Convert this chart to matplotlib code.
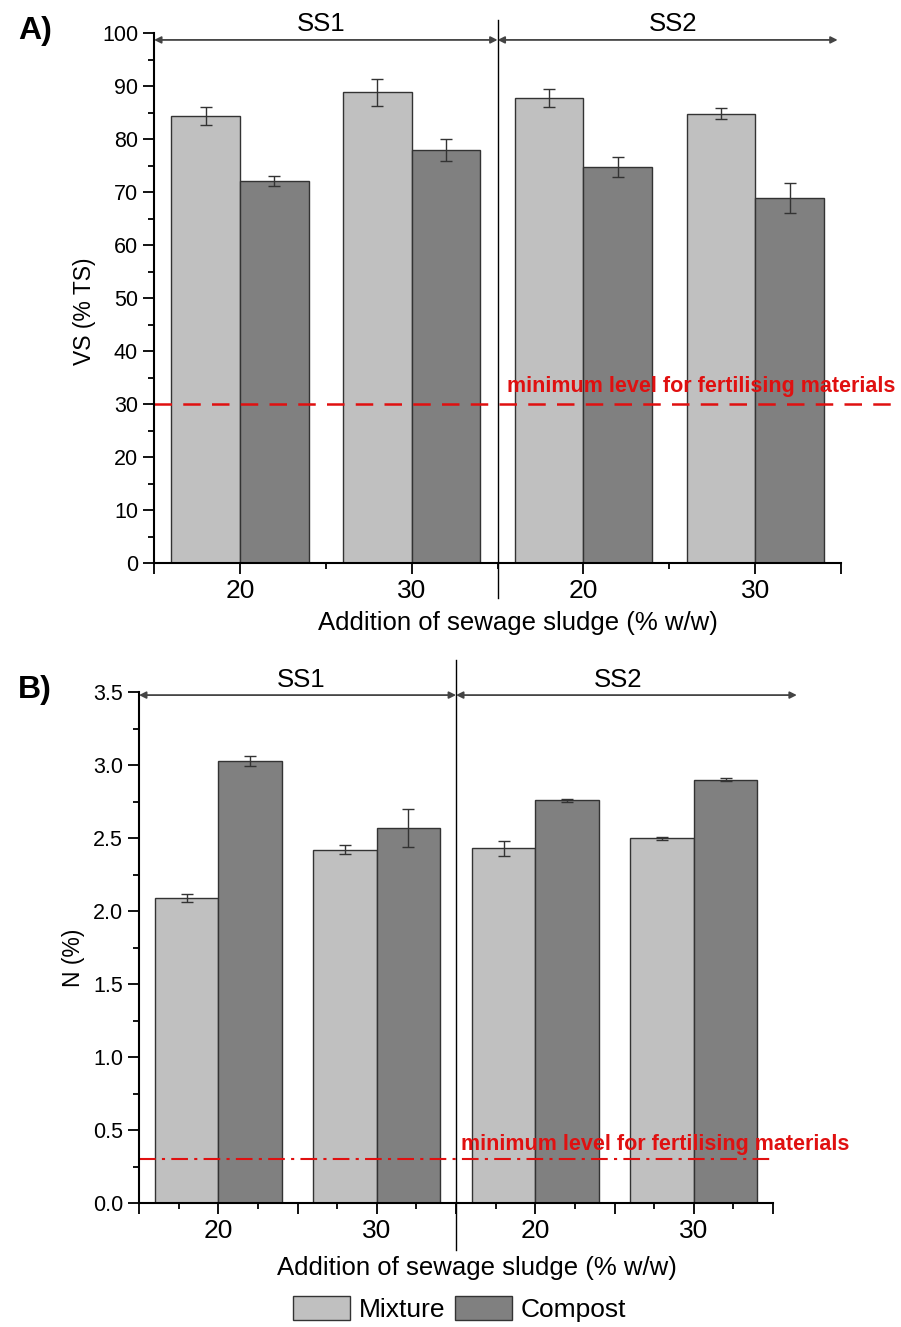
import numpy as np
import matplotlib
matplotlib.use("Agg")
import matplotlib.pyplot as plt
from matplotlib.patches import Patch

plt.rcParams["font.family"] = ["Liberation Sans", "DejaVu Sans"]

# =========================
# DATA
# =========================

groups = ["SS1", "SS1", "SS2", "SS2"]
dose_labels = ["20", "30", "20", "30"]

vs_mixture = [84.4, 88.8, 87.7, 84.8]
vs_mixture_err = [1.7, 2.6, 1.7, 1.0]
vs_compost = [72.1, 77.9, 74.8, 68.9]
vs_compost_err = [1.0, 2.1, 1.9, 2.8]

n_mixture = [2.09, 2.42, 2.43, 2.50]
n_mixture_err = [0.03, 0.03, 0.05, 0.01]
n_compost = [3.03, 2.57, 2.76, 2.90]
n_compost_err = [0.035, 0.13, 0.01, 0.01]

vs_limit = 30
n_limit = 0.3

MIX = "#c0c0c0"
COMP = "#808080"
RED = "#e01010"

x = np.arange(len(dose_labels)) + 0.5
w = 0.4

fig = plt.figure(figsize=(9.01, 13.27), dpi=100)


def draw_bars(ax, mix, mix_err, comp, comp_err):
    ax.bar(x - w / 2, mix, w, color=MIX, edgecolor="#333333", linewidth=1)
    ax.bar(x + w / 2, comp, w, color=COMP, edgecolor="#333333", linewidth=1)
    ax.errorbar(x - w / 2, mix, yerr=mix_err, fmt="none", ecolor="#333333",
                elinewidth=1, capsize=4, capthick=1)
    ax.errorbar(x + w / 2, comp, yerr=comp_err, fmt="none", ecolor="#333333",
                elinewidth=1, capsize=4, capthick=1)
    ax.spines["top"].set_visible(False)
    ax.spines["right"].set_visible(False)
    ax.spines["left"].set_linewidth(1.5)
    ax.spines["bottom"].set_linewidth(1.5)
    ax.tick_params(axis="both", which="major", direction="out", length=8,
                   width=1.3, labelsize=15.5)
    ax.tick_params(axis="both", which="minor", direction="out", length=4,
                   width=1.3)
    ax.set_xlim(0, 4)
    ax.set_xlabel("Addition of sewage sludge (% w/w)", fontsize=18.5)


def draw_arrows(ax, y, x_end, label_y, label_x):
    for x0, x1, lab, lx in [(0, 2, groups[0], label_x[0]),
                            (2, x_end, groups[2], label_x[1])]:
        ax.annotate("", xy=(x1, y), xytext=(x0, y),
                    arrowprops=dict(arrowstyle="<|-|>", color="#444444",
                                    lw=1.3, mutation_scale=10,
                                    shrinkA=0, shrinkB=0),
                    annotation_clip=False)
        ax.text(lx, label_y, lab, ha="center", va="center", fontsize=18.5)


# =========================
# PANEL A - VS
# =========================

axA = fig.add_axes([0.171, 0.5757, 0.7625, 0.3994])
draw_bars(axA, vs_mixture, vs_mixture_err, vs_compost, vs_compost_err)
axA.set_ylim(0, 100)
axA.set_yticks(np.arange(0, 101, 10))
axA.set_yticks(np.arange(5, 100, 10), minor=True)
axA.set_xticks([0, 0.5, 1.5, 2.5, 3.5, 4])
axA.set_xticklabels([""] + dose_labels + [""])
axA.set_xticks([1, 2, 3], minor=True)
axA.tick_params(axis="x", labelsize=19)
axA.set_ylabel("VS (% TS)", fontsize=16.5)
axA.yaxis.set_label_coords(-0.085, 0.475)
axA.xaxis.set_label_coords(0.53, -0.091)

axA.plot([0, 4.33], [vs_limit, vs_limit], color=RED, ls=(0, (7, 4.5)),
         lw=1.8, clip_on=False)
axA.text(2.055, vs_limit + 3.3, "minimum level for fertilising materials",
         color=RED, fontsize=15.5, fontweight="bold", va="center")
axA.plot([2, 2], [-6.6, 102.5], color="black", lw=1, clip_on=False)
draw_arrows(axA, 98.7, 3.98, 101.7, (0.97, 3.02))

# =========================
# PANEL B - N
# =========================

axB = fig.add_axes([0.1543, 0.0934, 0.7037, 0.385])
draw_bars(axB, n_mixture, n_mixture_err, n_compost, n_compost_err)
axB.set_ylim(0, 3.5)
axB.set_yticks(np.arange(0, 3.51, 0.5))
axB.set_yticklabels([f"{v:.1f}" for v in np.arange(0, 3.51, 0.5)])
axB.set_yticks(np.arange(0.25, 3.5, 0.5), minor=True)
axB.set_xticks([0, 0.5, 1, 1.5, 2, 2.5, 3, 3.5, 4])
axB.set_xticklabels(["", dose_labels[0], "", dose_labels[1], "",
                     dose_labels[2], "", dose_labels[3], ""])
axB.set_xticks(np.arange(0.25, 4, 0.5), minor=True)
axB.tick_params(axis="x", labelsize=19)
axB.set_ylabel("N (%)", fontsize=16.5)
axB.yaxis.set_label_coords(-0.085, 0.48)
axB.xaxis.set_label_coords(0.533, -0.104)

axB.plot([0, 4], [n_limit, n_limit], color=RED, ls=(0, (8, 3, 1.5, 3)),
         lw=1.5, clip_on=False)
axB.text(2.03, 0.40, "minimum level for fertilising materials",
         color=RED, fontsize=15.5, fontweight="bold", va="center")
axB.plot([2, 2], [-0.32, 3.72], color="black", lw=1, clip_on=False)
draw_arrows(axB, 3.48, 4.15, 3.58, (1.02, 3.02))

# =========================
# LABELS AND LEGEND
# =========================

fig.text(0.02, 0.977, "A)", fontsize=23, fontweight="bold", va="center")
fig.text(0.02, 0.480, "B)", fontsize=23, fontweight="bold", va="center")

handles = [Patch(facecolor=MIX, edgecolor="#333333", label="Mixture"),
           Patch(facecolor=COMP, edgecolor="#333333", label="Compost")]
fig.legend(handles=handles, loc="center", bbox_to_anchor=(0.51, 0.0136),
           ncol=2, frameon=False, fontsize=19, handlelength=2.16,
           handleheight=1.0, handletextpad=0.35, columnspacing=0.35)

fig.savefig("out.png", dpi=100)
